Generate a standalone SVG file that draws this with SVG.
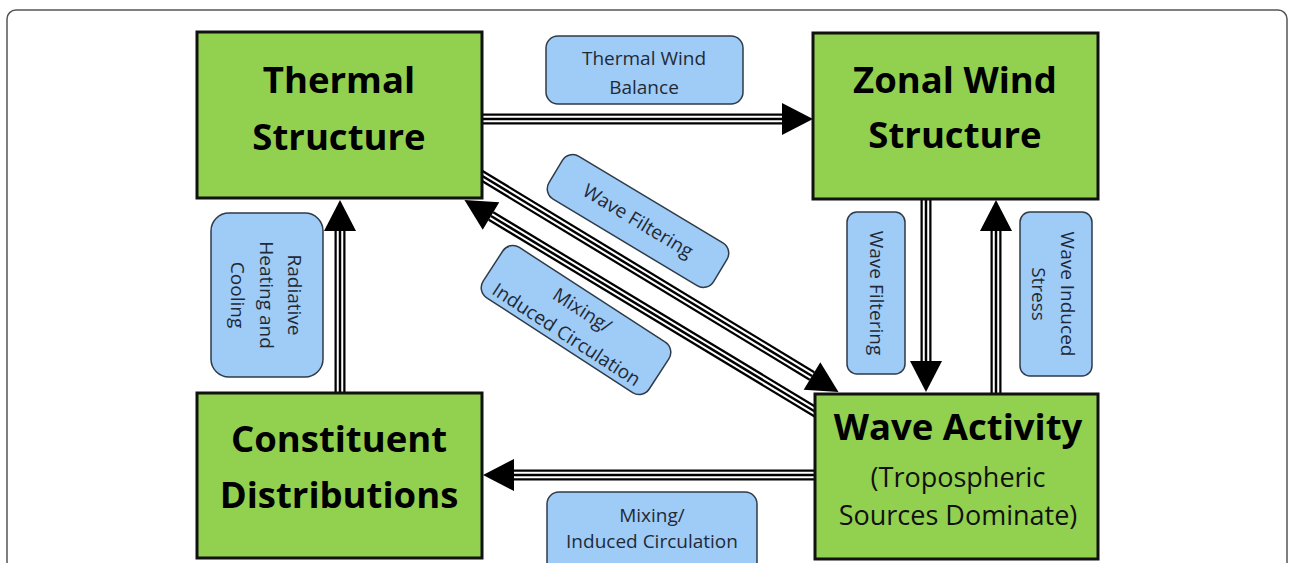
<svg xmlns="http://www.w3.org/2000/svg" xmlns:xlink="http://www.w3.org/1999/xlink" width="1289" height="563" viewBox="0 0 1289 563">
<style>
.frame{fill:#fff;stroke:#555;stroke-width:1.5}
.node{fill:#92d050;stroke:#111;stroke-width:3}
.title{font-family:"Open Sans","Noto Sans",sans-serif;font-weight:bold;font-size:36.5px;fill:#000;text-anchor:middle}
.sub{font-family:"Open Sans","Noto Sans",sans-serif;font-size:27px;fill:#111;text-anchor:middle}
.lbl{fill:#9fcbf7;stroke:#2f3b48;stroke-width:1.5}
.lt{font-family:"Open Sans","Noto Sans",sans-serif;font-size:19px;fill:#1f2a36;text-anchor:middle}
.c1{fill:none;stroke:#000;stroke-width:11}
.c2{fill:none;stroke:#fff;stroke-width:6.5}
.c3{fill:none;stroke:#000;stroke-width:2.5}
</style>
<defs>
<marker id="ah" markerUnits="userSpaceOnUse" markerWidth="32" markerHeight="32" refX="0" refY="16" orient="auto" overflow="visible">
<path d="M0,0 L31,16 L0,32 z" fill="#000"/>
</marker>
<path id="p1" d="M480,119 L782,119"/>
<path id="p2" d="M818,475 L514,475"/>
<path id="p3" d="M340,396 L340,231"/>
<path id="p4" d="M926,197 L926,361"/>
<path id="p5" d="M996,397 L996,231"/>
<path id="p6" d="M479,174 L812,376"/>
<path id="p7" d="M819,414 L491,216"/>
</defs>
<rect class="frame" x="7" y="10" width="1280" height="600" rx="9"/>
<g id="connectors">
<g id="thermal-zonal"><use href="#p1" class="c1"/><use href="#p1" class="c2"/><use href="#p1" class="c3" marker-end="url(#ah)"/></g>
<g id="wave-constituent"><use href="#p2" class="c1"/><use href="#p2" class="c2"/><use href="#p2" class="c3" marker-end="url(#ah)"/></g>
<g id="constituent-thermal"><use href="#p3" class="c1"/><use href="#p3" class="c2"/><use href="#p3" class="c3" marker-end="url(#ah)"/></g>
<g id="zonal-wave"><use href="#p4" class="c1"/><use href="#p4" class="c2"/><use href="#p4" class="c3" marker-end="url(#ah)"/></g>
<g id="wave-zonal"><use href="#p5" class="c1"/><use href="#p5" class="c2"/><use href="#p5" class="c3" marker-end="url(#ah)"/></g>
<g id="thermal-wave"><use href="#p6" class="c1"/><use href="#p6" class="c2"/><use href="#p6" class="c3" marker-end="url(#ah)"/></g>
<g id="wave-thermal"><use href="#p7" class="c1"/><use href="#p7" class="c2"/><use href="#p7" class="c3" marker-end="url(#ah)"/></g>
</g>
<g id="thermal">
<rect class="node" x="197" y="32" width="285" height="166"/>
<text class="title" x="339" y="93">Thermal</text>
<text class="title" x="339" y="150">Structure</text>
</g>
<g id="zonal">
<rect class="node" x="813" y="33" width="285" height="166"/>
<text class="title" x="955" y="93">Zonal Wind</text>
<text class="title" x="955" y="148">Structure</text>
</g>
<g id="constituent">
<rect class="node" x="197" y="393" width="285" height="165"/>
<text class="title" x="339" y="452">Constituent</text>
<text class="title" x="339" y="508">Distributions</text>
</g>
<g id="wave">
<rect class="node" x="815" y="394" width="283" height="165"/>
<text class="title" x="958" y="440">Wave Activity</text>
<text class="sub" x="958" y="487">(Tropospheric</text>
<text class="sub" x="958" y="525">Sources Dominate)</text>
</g>
<g id="labels">
<g id="lbl-thermal-wind">
<rect class="lbl" x="546" y="36" width="197" height="68" rx="12"/>
<text class="lt" x="644" y="65">Thermal Wind</text>
<text class="lt" x="644" y="94">Balance</text>
</g>
<g id="lbl-wave-filtering-diag" transform="translate(638,221) rotate(31)">
<rect class="lbl" x="-96" y="-25" width="192" height="50" rx="12"/>
<text class="lt" x="0" y="6.5">Wave Filtering</text>
</g>
<g id="lbl-mixing-diag" transform="translate(576,320) rotate(33)">
<rect class="lbl" x="-99" y="-30" width="198" height="60" rx="12"/>
<text class="lt" x="0" y="-5">Mixing/</text>
<text class="lt" x="0" y="24">Induced Circulation</text>
</g>
<g id="lbl-radiative" transform="translate(267,295) rotate(90)">
<rect class="lbl" x="-82" y="-56" width="164" height="112" rx="18"/>
<text class="lt" x="0" y="-21">Radiative</text>
<text class="lt" x="0" y="7">Heating and</text>
<text class="lt" x="0" y="36">Cooling</text>
</g>
<g id="lbl-wave-filtering-vert" transform="translate(876,293) rotate(90)">
<rect class="lbl" x="-81" y="-29" width="162" height="58" rx="10"/>
<text class="lt" x="0" y="6.5">Wave Filtering</text>
</g>
<g id="lbl-wave-stress" transform="translate(1056,294) rotate(90)">
<rect class="lbl" x="-82" y="-36" width="164" height="72" rx="10"/>
<text class="lt" x="0" y="-5">Wave Induced</text>
<text class="lt" x="0" y="24">Stress</text>
</g>
<g id="lbl-mixing-bottom">
<rect class="lbl" x="547" y="492" width="210" height="90" rx="12"/>
<text class="lt" x="652" y="522">Mixing/</text>
<text class="lt" x="652" y="548">Induced Circulation</text>
</g>
</g>
</svg>
